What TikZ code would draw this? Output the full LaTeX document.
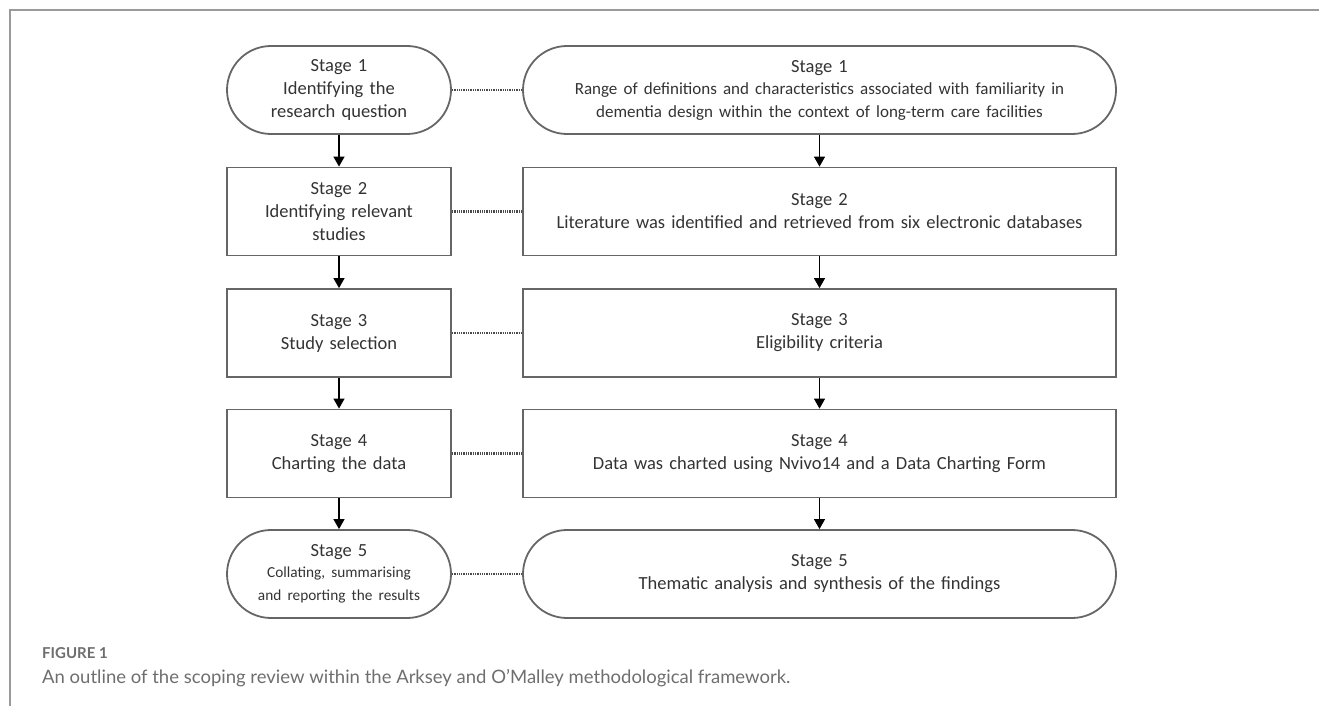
\documentclass[tikz,border=0pt]{standalone}
\usepackage{fontspec}
\setmainfont{Carlito}
\newfontfamily\capfont{Lato}
\usetikzlibrary{arrows.meta}
\definecolor{boxline}{HTML}{666666}
\definecolor{boxtext}{HTML}{333333}
\definecolor{linkcol}{HTML}{4A4A4A}
\definecolor{framecol}{HTML}{9A9A9A}
\definecolor{capcol}{HTML}{6E6E6E}
\begin{document}
\begin{tikzpicture}[x=1pt,y=-1pt,
  stagebox/.style={draw=boxline, line width=1.8pt, text=boxtext, align=center,
    minimum height=88pt, inner sep=0pt, font=\fontsize{18.5}{23}\selectfont},
  leftbox/.style={stagebox, minimum width=224pt, text width=220pt},
  rightbox/.style={stagebox, minimum width=593pt, text width=585pt},
  term/.style={rounded corners=44pt},
  flow/.style={draw=black, line width=1.3pt, -{Triangle[width=11pt,length=10pt]}},
  link/.style={draw=linkcol, line width=2.2pt, dash pattern=on 1.3pt off 1pt},
  framestyle/.style={draw=framecol, line width=2pt}]
\useasboundingbox (0,0) rectangle (1319,706);
\draw[framestyle] (10,706) -- (10,10) -- (1319,10);

\node[leftbox,term] (L1) at (339,90) {Stage 1\\Identifying the\\research question};
\node[leftbox] (L2) at (339,211.5) {Stage 2\\Identifying relevant\\studies};
\node[leftbox] (L3) at (339,333) {Stage 3\\Study selection};
\node[leftbox] (L4) at (339,453.5) {Stage 4\\Charting the data};
\node[leftbox,term] (L5) at (339,574) {Stage 5\\{\fontsize{15.3}{21}\selectfont Collating, summarising\\and reporting the results}};

\node[rightbox,term] (R1) at (819.5,90) {Stage 1\\{\fontsize{17}{22}\selectfont Range of definitions and characteristics associated with familiarity in\\dementia design within the context of long-term care facilities}};
\node[rightbox] (R2) at (819.5,211.5) {Stage 2\\Literature was identified and retrieved from six electronic databases};
\node[rightbox] (R3) at (819.5,333) {Stage 3\\Eligibility criteria};
\node[rightbox] (R4) at (819.5,453.5) {Stage 4\\Data was charted using Nvivo14 and a Data Charting Form};
\node[rightbox,term] (R5) at (819.5,574) {Stage 5\\Thematic analysis and synthesis of the findings};

\foreach \a/\b in {L1/L2,L2/L3,L3/L4,L4/L5,R1/R2,R2/R3,R3/R4,R4/R5}
  \draw[flow] (\a.south) -- (\b.north);
\foreach \i in {1,...,5}
  \draw[link] (L\i.east) -- (R\i.west);

\node[anchor=base west, inner sep=0pt, text=capcol, font=\capfont\bfseries\fontsize{15}{18}\selectfont] (figlab) at (42,658) {FIGURE 1};
\node[anchor=base west, inner sep=0pt, text=capcol, font=\capfont\fontsize{18.5}{22}\selectfont] (figcap) at (42,683) {An outline of the scoping review within the Arksey and O’Malley methodological framework.};
\end{tikzpicture}
\end{document}
